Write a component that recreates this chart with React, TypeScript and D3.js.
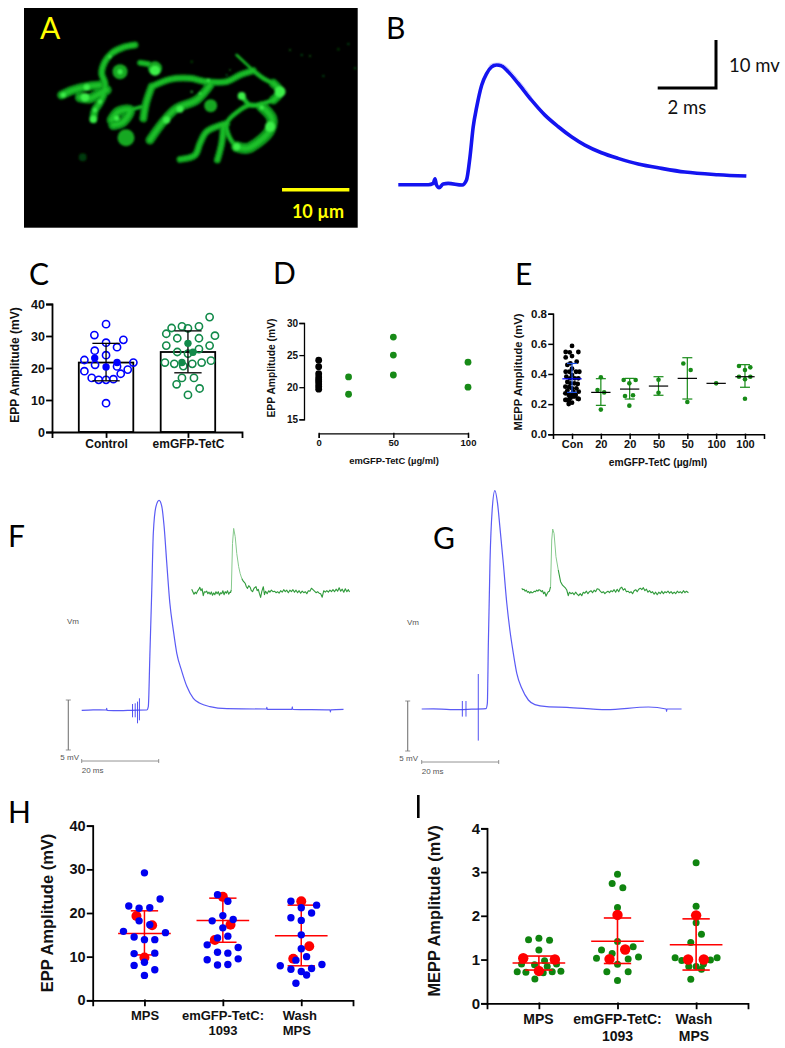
import React, { useEffect, useRef } from "react";
import * as d3 from "d3";

const SANS = "'Liberation Sans', Arial, sans-serif";
const HEAD = "Lato, 'Open Sans', sans-serif";

// ---------- Panel C ----------
const cCats = ["Control", "emGFP-TetC"];
const cTicks = [0, 10, 20, 30, 40];
const cMeans = [21.7, 25];
const cLow = [16, 18.5];
const cHigh = [27.7, 31.6];
const cControlOpen = [33.7, 30.3, 28.8, 27.9, 26.5, 25.4, 24.0, 22.5, 21.7, 21.0, 20.5, 19.5, 19.0, 18.2, 16.9, 16.3, 16.3, 16.5, 9.0];
const cControlOpenJ = [0, -35, 52, 0, 33, -34, 0, -65, 82, -33, 33, 65, -65, 44, -43, -22, 0, 22, 0];
const cControlFilled = [23.1, 21.7, 20.3];
const cControlFilledJ = [-34, 33, 0];
const cTetOpen = [35.9, 32.5, 33, 32.4, 33, 30.7, 30.1, 29.3, 29.3, 27, 27, 25.9, 25, 24.5, 21.7, 21.3, 21.3, 21.7, 22.3, 20.6, 16.9, 16.9, 14.9, 13.6, 11.6];
const cTetOpenJ = [65, -49, -18, 0, 33, -65, 81, -32, 33, -65, 65, 33, -32, 0, -69, -41, 13, 41, 69, -14, -18, 18, -34, 35, 0];
const cTetFilled = [27.7, 24.9, 21.7];
const cTetFilledJ = [0, 15, -18];

// ---------- Panel D ----------
const dYTicks = [15, 20, 25, 30];
const dXTicks = [0, 50, 100];
const dControl = [24.2, 23.2, 22.1, 21.6, 21.2, 20.9, 20.5, 20.1, 19.7];
const dDoses = [20, 20, 50, 50, 50, 100, 100];
const dDoseValues = [21.6, 18.9, 27.8, 25, 21.9, 23.9, 20];

// ---------- Panel E ----------
const eLabels = ["Con", "20", "20", "50", "50", "100", "100"];
const eTicks = [0, 0.2, 0.4, 0.6, 0.8];
const eCon = [0.586, 0.546, 0.544, 0.546, 0.519, 0.51, 0.482, 0.471, 0.46, 0.435, 0.415, 0.415, 0.415, 0.415, 0.393, 0.382, 0.371, 0.371, 0.371, 0.347, 0.338, 0.338, 0.334, 0.316, 0.312, 0.305, 0.305, 0.29, 0.283, 0.283, 0.272, 0.261, 0.261, 0.261, 0.243, 0.25, 0.228, 0.239, 0.236, 0.217, 0.21, 0.228, 0.234, 0.201];
const eConJ = [0, -19, -7, 19, 0, -19, 14, -5, -14, 0, -19, -8, 12, 22, 0, -17, -6, 8, 19, -14, -5, 7, 17, -20, -9, 0, 13, -14, 4, 20, -20, -10, 0, 11, -4, 6, -17, -7, 17, -9, 0, -20, 20, -10];
const eG1 = [0.378, 0.294, 0.278, 0.164];
const eG1J = [0, -10, 10, 0];
const eG2 = [0.36, 0.36, 0.338, 0.259, 0.254, 0.19];
const eG2J = [-18, 18, -1, 10, -14, -1];
const eG3 = [0.362, 0.276];
const eG3J = [0, 0];
const eG4 = [0.47, 0.427, 0.214];
const eG4J = [-12, 10, 0];
const eG5 = [0.338];
const eG5J = [0];
const eG6 = [0.453, 0.444, 0.427, 0.382, 0.382, 0.365, 0.236];
const eG6J = [-18, 16, 0, -18, 16, 0, 0];
const eMeans = [0.368, 0.278, 0.3, 0.32, 0.371, 0.338, 0.382];
const eLow = [0.278, 0.192, 0.234, 0.259, 0.234, 0.338, 0.312];
const eHigh = [0.47, 0.369, 0.371, 0.382, 0.508, 0.338, 0.462];

// ---------- Panel H ----------
const hTicks = [0, 10, 20, 30, 40];
const hMeans = [15.3, 18.3, 14.8];
const hLow = [10.4, 13.3, 7.9];
const hHigh = [20.5, 23.4, 21.8];
const hBlue1 = [29.2, 23.2, 21.6, 21.1, 21.2, 18.2, 17.3, 15.8, 15.5, 14.5, 13.9, 13.9, 10.7, 10.8, 8.7, 8.0, 7.0, 5.7];
const hBlue1J = [0, 47, -47, -16, 16, -16, 16, -63, 63, -31, 0, 31, -31, 31, 0, -31, 31, 0];
const hBlue2 = [24.2, 22.7, 19.4, 18.2, 18.5, 16.6, 14.7, 14.3, 12.7, 12.1, 11, 10.8, 9.3, 9.5, 8.1, 8.2];
const hBlue2J = [-16, 15, 0, -32, 31, 0, 15, -16, -47, 46, -16, 15, -47, 46, -16, 15];
const hBlue3 = [22.7, 21.8, 21.2, 20, 18.9, 18.3, 15, 11.8, 10, 9.2, 7.9, 8.2, 7.1, 7.3, 6.6, 5.8, 3.9];
const hBlue3J = [-31, 46, 0, 31, -31, 0, 0, 0, 16, -16, -63, 62, -31, 31, 0, 16, -16];
const hRed1 = [19.3, 17.2, 9.8];
const hRed1J = [-24, 23, 0];
const hRed2 = [23.7, 17.3, 13.8];
const hRed2J = [0, 23, -24];
const hRed3 = [22.7, 12.4, 9.5];
const hRed3J = [0, 24, -24];

// ---------- Panel I ----------
const iTicks = [0, 1, 2, 3, 4];
const iMeans = [0.92, 1.42, 1.34];
const iLow = [0.76, 0.91, 0.76];
const iHigh = [1.08, 1.95, 1.93];
const iGreen1 = [1.455, 1.486, 1.44, 1.22, 0.97, 0.9, 0.88, 0.9, 0.84, 0.72, 0.71, 0.7, 0.72, 0.73, 0.556];
const iGreen1J = [-31, 0, 32, 0, 17, -52, -13, 53, 25, -65, -39, 13, 40, 66, -12];
const iGreen2 = [2.95, 2.74, 2.64, 2.19, 1.41, 1.22, 1.29, 1.14, 1.03, 1.01, 1.06, 0.89, 0.72, 0.72, 0.52];
const iGreen2J = [0, -16, 16, 0, 0, -48, 47, -16, -63, 32, 63, 0, -32, 32, 0];
const iGreen3 = [3.21, 2.22, 1.84, 1.58, 1.39, 1.04, 1.04, 0.98, 0.99, 0.84, 0.9, 0.84, 0.78, 0.55];
const iGreen3J = [0, 0, 0, 16, -16, -63, 63, -43, 43, -22, 22, 0, 16, -16];
const iRed1 = [1.03, 1, 0.74];
const iRed1J = [-47, 48, 0];
const iRed2 = [2.02, 1.23, 1.01];
const iRed2J = [0, 23, -24];
const iRed3 = [2.01, 1, 1];
const iRed3J = [0, -24, 23];

const groups3 = [0, 1, 2];

// ---------- Traces: [ms, mV] ----------
type Pt = [number, number];
const traceB: Pt[] = [[0,0],[1.03,0],[1.2,.28],[1.26,1.24],[1.31,-.07],[1.4,-.62],[1.54,.14],[1.71,.28],[2.19,-.07],[2.34,.97],[2.46,5.8],[2.57,12],[2.69,16.1],[2.86,20.6],[3.03,23],[3.2,24.4],[3.37,24.8],[3.54,24.6],[3.77,23.4],[4.11,21],[4.57,17.5],[5.03,14.4],[5.49,12],[5.94,9.93],[6.4,8.2],[6.97,6.62],[7.54,5.45],[8.23,4.28],[9.03,3.38],[9.83,2.62],[10.97,2.07],[11.94,1.79]];
const traceBInner: Pt[] = [[3.1,24.6],[3.25,25.1],[3.45,25.2],[3.66,24.7],[4.11,21.8],[4.57,18.2]];
const traceFBlue: Pt[] = [[0,0],[3,.05],[6.4,.03],[6.5,.2],[6.6,0],[10,-.03],[13,0],[16.9,.03],[17.3,.37],[17.7,5.4],[18.2,12],[18.6,17.7],[19.3,20.4],[20.1,21],[20.8,20.4],[21.4,18.4],[22.1,14.7],[22.9,10.7],[23.8,8],[24.7,5.7],[26,3.9],[27.3,2.4],[29,1.2],[30.7,.7],[33.3,.37],[37.7,.17],[48,.13],[48.1,.3],[48.2,.1],[54.6,.1],[54.7,.35],[54.8,.1],[64.5,.05],[64.6,-.15],[64.7,.05],[68,.1]];
const traceFGreen: Pt[] = [[0,.35],[.3,.1],[.6,-.15],[.9,.05],[1.2,-.1],[1.5,.15],[1.8,.3],[2.1,.55],[2.4,.2],[2.7,.4],[3,-.3],[3.3,.1],[3.6,.05],[3.9,.15],[4.2,-.1],[4.5,.05],[4.8,-.15],[5.1,.08],[5.4,-.25],[5.7,-.02],[6,-.2],[6.3,.1],[6.6,-.1],[6.9,.1],[7.2,-.25],[7.5,0],[7.8,-.1],[8.1,.2],[8.4,-.2],[8.7,.1],[9,-.05],[9.3,.2],[9.6,-.15],[9.9,.05],[10.1,.02],[10.3,.3],[10.6,4.93],[10.9,6.43],[11.3,5.6],[11.7,3.93],[12.2,2.6],[12.6,1.9],[13,1.43],[13.4,1.15],[13.9,.93],[14.2,.6],[14.5,.43],[14.8,.7],[15.2,.53],[15.5,.2],[15.8,.1],[16.2,.45],[16.7,.6],[17,.2],[17.3,.33],[17.6,-.1],[17.9,-.47],[18.2,.1],[18.6,.6],[18.9,-.2],[19.2,.15],[19.6,-.1],[20,.2],[20.3,.05],[20.7,.25],[21.1,.1],[21.5,.15],[21.9,0],[22.3,.1],[22.7,-.05],[23.1,.2],[23.5,.05],[23.9,.3],[24.3,.1],[24.7,.25],[25.1,0],[25.5,.25],[25.9,.1],[26.3,.3],[26.7,.05],[27.1,.25],[27.5,0],[27.9,.2],[28.3,-.05],[28.7,.15],[29.1,0],[29.5,.1],[29.9,-.1],[30.3,.2],[30.7,.15],[31.1,.45],[31.5,.3],[31.9,.15],[32.3,0],[32.7,.1],[33.1,-.05],[33.5,-.1],[33.9,-.45],[34.3,.2],[34.7,.05],[35.1,.2],[35.5,.05],[35.9,.25],[36.3,.1],[36.7,.3],[37.1,.1],[37.5,.35],[37.9,.15],[38.3,.5],[38.7,.15],[39.1,.35],[39.5,.05],[39.9,.4],[40.3,.1],[40.7,.3],[41,.07]];
const traceGBlue: Pt[] = [[0,.03],[3,.05],[7.4,-.03],[12,0],[16.7,.07],[17.05,.6],[17.3,6.27],[17.75,14.9],[18.3,19.9],[19,21.87],[19.7,20.6],[20.3,18.27],[21.2,14.6],[22.1,10.6],[22.9,7.93],[23.8,5.6],[24.7,3.6],[26,2.1],[27.7,.93],[29.4,.47],[32.5,.27],[37.7,.2],[48,-.03],[58.9,.23],[63.5,.03],[63.6,-.2],[63.7,.03],[67.5,.03]];
const traceGGreen: Pt[] = [[0,.43],[.3,.3],[.6,.35],[.9,.15],[1.2,.25],[1.5,.05],[1.8,.12],[2.1,-.05],[2.4,.1],[2.7,-.02],[3,.05],[3.3,.15],[3.6,.1],[3.9,.25],[4.2,.15],[4.5,.3],[4.8,.25],[5.1,.1],[5.4,.2],[5.7,-.1],[6,.05],[6.3,-.35],[6.6,-.1],[6.9,.1],[7.2,.15],[7.5,.6],[7.8,5.27],[8.05,6.37],[8.4,5.93],[8.9,3.6],[9.5,2.27],[10.1,1.1],[10.6,.75],[11,.6],[11.4,.45],[11.7,.27],[12.1,-.3],[12.4,.05],[12.8,-.1],[13.2,0],[13.6,-.2],[14,.05],[14.4,-.15],[14.8,-.3],[15.2,-.1],[15.6,-.3],[16,.05],[16.4,-.05],[16.8,.15],[17.2,-.1],[17.6,.1],[18,.2],[18.4,0],[18.8,.25],[19.2,.1],[19.6,.4],[20,.35],[20.4,.15],[20.8,0],[21.2,.1],[21.6,-.1],[22,.05],[22.4,.15],[22.8,0],[23.2,.2],[23.6,.1],[24,.3],[24.4,.05],[24.8,.35],[25.2,.1],[25.6,.45],[26,.55],[26.4,.25],[26.8,.4],[27.2,.1],[27.6,.15],[28,0],[28.4,.1],[28.8,-.1],[29.2,.2],[29.6,.3],[30,.1],[30.4,.35],[30.8,.45],[31.2,.3],[31.6,.5],[32,.2],[32.4,.35],[32.8,.05],[33.2,.2],[33.6,0],[34,.1],[34.4,-.15],[34.8,.05],[35.2,-.2],[35.6,.05],[36,-.1],[36.4,.15],[36.8,-.1],[37.2,.1],[37.6,0],[38,.15],[38.4,-.05],[38.8,.1],[39.2,-.1],[39.6,.05],[40,-.1],[40.4,.15],[40.8,0],[41.2,.1],[41.6,-.05],[42,.2],[42.4,.0],[42.8,.15],[43.3,0]];
// stimulus artefacts: [ms, low mV, high mV]
const artefactsF = [[13.2,-.7,.63],[13.9,-.7,.7],[14.5,-1.3,.87],[15,-1,1.2]];
const artefactsG = [[10.56,-.73,.83],[11.5,-.73,.83],[14.7,-3.13,3.53]];

// ---------- Micrograph (image pixel coordinates) ----------
const nerveBranches: [number, Pt[]][] = [
  [7, [[405,135],[370,142],[335,160],[315,185],[305,220],[315,250],[310,285]]],
  [9, [[185,285],[220,270],[260,260],[300,255]]],
  [10, [[240,292],[270,295],[300,280],[320,270]]],
  [8, [[310,285],[298,310],[285,330],[280,358]]],
  [8, [[430,355],[438,310],[455,260]]],
  [7, [[455,260],[510,238],[570,235],[620,245],[680,245],[720,225],[760,212]]],
  [5, [[760,212],[790,235],[820,250]]],
  [9, [[820,250],[840,275],[820,300]]],
  [5, [[820,300],[790,310],[750,315],[725,285]]],
  [9, [[450,420],[490,365],[530,325],[590,300],[630,255]]],
  [10, [[335,360],[355,335],[390,330],[370,365],[340,375]]],
  [4, [[390,330],[425,320]]],
  [11, [[785,320],[815,355],[810,390],[770,430],[740,445],[710,440]]],
  [5, [[710,440],[690,415],[680,370],[720,330],[750,315],[785,320]]],
  [7, [[680,370],[620,395],[600,430],[585,465],[540,478]]],
  [7, [[670,380],[665,430],[652,480]]],
  [3, [[710,165],[760,212]]],
  [6, [[420,188],[445,192]]],
];
const nerveDim: [number, number, number][] = [[360,215,7.5],[632,317,6.5],[378,413,8.5],[465,205,7],[248,472,4]];
const nerveBlobs: [number, number, number][] = [[465,212,5],[840,275,5.5],[810,380,5],[725,288,4],[500,360,3.5],[540,328,3.5],[710,440,3.5],[280,358,3.5],[255,292,4],[190,285,2.5],[360,215,2.5],[785,323,2],[285,330,2],[300,305,2],[575,275,1],[330,170,1.5],[625,240,1.5],[600,280,1.2],[260,262,3],[350,355,2.5]];
const nerveSpecks: Pt[] = [[870,150],[905,165],[930,168],[1045,132],[1065,205],[970,228],[1015,148],[690,210],[575,185],[680,225]];

function Axis({ kind, scale, ticks, format, x = 0, y = 0, size, width = 1.8, tick = 5 }: any) {
  const ref = useRef<SVGGElement>(null);
  useEffect(() => {
    const gen = kind === "left" ? d3.axisLeft(scale) : d3.axisBottom(scale);
    gen.tickValues(ticks).tickSizeOuter(0).tickSize(tick).tickPadding(2).tickFormat(format);
    const g = d3.select(ref.current as SVGGElement);
    g.call(gen as any);
    g.selectAll("path,line").attr("stroke", "#000").attr("stroke-width", width).attr("stroke-linecap", "square");
    g.selectAll("text").attr("fill", "#111").style("font-family", SANS).style("font-weight", "700").style("font-size", size + "px");
  });
  return <g ref={ref} transform={`translate(${x},${y})`} />;
}

const jitter = d3.scaleLinear().domain([-100, 100]).range([-100 / 3, 100 / 3]);

function Dots({ values, offs, cx, y, r, fill, stroke, sw }: any) {
  return (
    <g>
      {values.map((v: number, i: number) => (
        <circle key={i} cx={cx + jitter(offs[i])} cy={y(v)} r={r} fill={fill} stroke={stroke ?? "none"} strokeWidth={sw ?? 0} />
      ))}
    </g>
  );
}

function ErrBar({ cx, y, mean, low, high, halfMean, halfCap, color, meanColor, width }: any) {
  const w = jitter(halfMean);
  const c = jitter(halfCap);
  return (
    <g stroke={color} strokeWidth={width} fill="none">
      <line x1={cx} x2={cx} y1={y(low)} y2={y(high)} />
      <line x1={cx - c} x2={cx + c} y1={y(low)} y2={y(low)} />
      <line x1={cx - c} x2={cx + c} y1={y(high)} y2={y(high)} />
      <line x1={cx - w} x2={cx + w} y1={y(mean)} y2={y(mean)} stroke={meanColor ?? color} />
    </g>
  );
}

function Txt({ x, y, size, children, anchor = "middle", weight = 700, rotate = false, fill = "#111", family = SANS }: any) {
  return (
    <text x={x} y={y} fontSize={size} textAnchor={anchor} fontWeight={weight} fill={fill} fontFamily={family}
      dominantBaseline={rotate ? "middle" : undefined}
      transform={rotate ? `rotate(-90 ${x} ${y})` : undefined}>
      {children}
    </text>
  );
}

function Head({ x, y, children, fill = "#000" }: any) {
  return <text x={x} y={y} fontSize={30} fontFamily={HEAD} fill={fill}>{children}</text>;
}

function PanelA() {
  const x = d3.scaleLinear().domain([72, 1073]).range([24, 357.7]);
  const y = d3.scaleLinear().domain([24, 683]).range([8, 227.7]);
  const line = d3.line<Pt>().x((d) => x(d[0])).y((d) => y(d[1])).curve(d3.curveCatmullRom);
  return (
    <g>
      <rect x={x(72)} y={y(24)} width={x(1073) - x(72)} height={y(683) - y(24)} fill="#000" />
      <g filter="url(#glow)">
        {nerveSpecks.map((s, i) => <circle key={i} cx={x(s[0])} cy={y(s[1])} r={1} fill="#0c6a14" />)}
        {nerveDim.map((b, i) => <circle key={i} cx={x(b[0])} cy={y(b[1])} r={b[2]} fill={i === 4 ? "#063a0a" : "#14a820"} />)}
        {nerveBranches.map(([w, pts], i) => (
          <path key={i} d={line(pts) as string} fill="none" stroke="#119a1c" strokeWidth={w} strokeLinecap="round" />
        ))}
        {nerveBranches.map(([w, pts], i) => (
          <path key={"b" + i} d={line(pts) as string} fill="none" stroke="#1fc22b" strokeWidth={w * 0.4} strokeLinecap="round" />
        ))}
        {nerveBlobs.map((b, i) => <circle key={i} cx={x(b[0])} cy={y(b[1])} r={b[2]} fill="#3cf04a" />)}
      </g>
      <line x1={x(846)} x2={x(1048)} y1={y(569)} y2={y(569)} stroke="#ffff00" strokeWidth={3.6} />
      <text x={x(954)} y={218} fontSize={18} fontWeight={700} fill="#ffff00" textAnchor="middle" fontFamily={HEAD}>10 µm</text>
      <Head x={40} y={38.5} fill="#ffff00">A</Head>
    </g>
  );
}

function PanelB() {
  const x = d3.scaleLinear().domain([0, 2]).range([398.3, 456.6]);
  const y = d3.scaleLinear().domain([0, 10]).range([184.7, 136.4]);
  const line = d3.line<Pt>().x((d) => x(d[0])).y((d) => y(d[1])).curve(d3.curveMonotoneX);
  const barX = d3.scaleLinear().domain([0, 2]).range([657.7, 716]);
  const barY = d3.scaleLinear().domain([0, 10]).range([88, 40]);
  return (
    <g>
      <path d={line(traceB) as string} fill="none" stroke="#1414f0" strokeWidth={3.6} />
      <path d={line(traceBInner) as string} fill="none" stroke="#b8b8ff" strokeWidth={0.7} />
      <path d={`M${barX(0)},${barY(0)}H${barX(2)}V${barY(10)}`} fill="none" stroke="#000" strokeWidth={3} />
      <text x={729} y={71.5} fontSize={18.5} fontFamily={HEAD} fill="#111">10 mv</text>
      <text x={667.5} y={114} fontSize={18.5} fontFamily={HEAD} fill="#111">2 ms</text>
      <Head x={386} y={39}>B</Head>
    </g>
  );
}

function PanelC() {
  const x = d3.scalePoint<string>().domain(cCats).range([52, 242]).padding(0.66);
  const y = d3.scaleLinear().domain([0, 40]).range([432, 304]);
  const c0 = x(cCats[0]) as number;
  const c1 = x(cCats[1]) as number;
  const bw = 54.5;
  return (
    <g>
      <Head x={29} y={285}>C</Head>
      {cCats.map((c, i) => (
        <rect key={c} x={(x(c) as number) - bw / 2} y={y(cMeans[i])} width={bw} height={y(0) - y(cMeans[i])} fill="#fff" stroke="#000" strokeWidth={1.8} />
      ))}
      <Dots values={cControlOpen} offs={cControlOpenJ} cx={c0} y={y} r={3.6} fill="none" stroke="#0000ff" sw={1.6} />
      <Dots values={cTetOpen} offs={cTetOpenJ} cx={c1} y={y} r={3.6} fill="none" stroke="#128a4a" sw={1.6} />
      {cCats.map((c, i) => (
        <ErrBar key={c} cx={x(c)} y={y} mean={cMeans[i]} low={cLow[i]} high={cHigh[i]} halfMean={0} halfCap={41} color="#000" width={1.3} />
      ))}
      <Dots values={cControlFilled} offs={cControlFilledJ} cx={c0} y={y} r={3.7} fill="#0000ff" />
      <Dots values={cTetFilled} offs={cTetFilledJ} cx={c1} y={y} r={3.7} fill="#128a4a" />
      <Axis kind="left" scale={y} ticks={cTicks} format={(d: number) => String(d)} x={52} size={12.5} />
      <Axis kind="bottom" scale={x} ticks={cCats} format={(d: string) => d} y={432} size={12} />
      <Txt x={16} y={365} size={12} rotate>EPP Amplitude (mV)</Txt>
    </g>
  );
}

function PanelD() {
  const y = d3.scaleLinear().domain([15, 30]).range([419.3, 323]);
  const x = d3.scaleLinear().domain([0, 100]).range([318.7, 468]);
  return (
    <g>
      <Head x={273} y={283.5}>D</Head>
      {dControl.map((v, i) => <circle key={i} cx={x(0)} cy={y(v)} r={3.4} fill="#000" />)}
      {dDoseValues.map((v, i) => <circle key={i} cx={x(dDoses[i])} cy={y(v)} r={3.4} fill="#178a17" />)}
      <Axis kind="left" scale={y} ticks={dYTicks} format={(d: number) => String(d)} x={304} size={10} width={1.3} tick={4} />
      <Axis kind="bottom" scale={x} ticks={dXTicks} format={(d: number) => String(d)} y={433.3} size={9.5} width={1.3} tick={4} />
      <Txt x={394} y={464} size={9.4}>emGFP-TetC (µg/ml)</Txt>
      <Txt x={272} y={368} size={10.3} rotate>EPP Amplitude (mV)</Txt>
    </g>
  );
}

function PanelE() {
  const ids = d3.range(eLabels.length);
  const x = d3.scalePoint<number>().domain(ids).range([553, 764]).padding(0.66);
  const y = d3.scaleLinear().domain([0, 0.8]).range([434.3, 313.7]);
  const sets: [number[], number[]][] = [[eG1, eG1J], [eG2, eG2J], [eG3, eG3J], [eG4, eG4J], [eG5, eG5J], [eG6, eG6J]];
  return (
    <g>
      <Head x={515} y={285}>E</Head>
      <Dots values={eCon} offs={eConJ} cx={x(0)} y={y} r={2.4} fill="#000" />
      {sets.map(([v, j], i) => (
        <Dots key={i} values={v} offs={j} cx={x(i + 1)} y={y} r={2.3} fill="#178a17" />
      ))}
      {ids.map((i) => (
        <ErrBar key={i} cx={x(i)} y={y} mean={eMeans[i]} low={eLow[i]} high={eHigh[i]} halfMean={29} halfCap={i === 5 ? 0 : 15}
          color={i === 0 ? "#1a4fe0" : "#178a17"} meanColor={i === 0 ? "#0000ff" : "#000"} width={1.2} />
      ))}
      <Axis kind="left" scale={y} ticks={eTicks} format={(d: number) => d.toFixed(1)} x={553} size={11.5} width={1.5} tick={4} />
      <Axis kind="bottom" scale={x} ticks={ids} format={(i: number) => eLabels[i]} y={434.3} size={11} width={1.5} tick={4} />
      <Txt x={658} y={466} size={10.3}>emGFP-TetC (µg/ml)</Txt>
      <Txt x={519} y={372} size={11.2} rotate>MEPP Amplitude (mV)</Txt>
    </g>
  );
}

function Trace({ data, x, y, color, width, curve }: any) {
  const line = d3.line<Pt>().x((d) => x(d[0])).y((d) => y(d[1]));
  if (curve) line.curve(curve);
  return <path d={line(data) as string} fill="none" stroke={color} strokeWidth={width} strokeLinejoin="round" />;
}

function Recording({ blue, green, spike, arts, bx, by, gx, gy, barX, barTop, vmX, vmY, labelY, hx, hy, letter, mvX }: any) {
  const x = d3.scaleLinear().domain([0, 20]).range([bx, bx + 77]);
  const y = d3.scaleLinear().domain([0, 5]).range([by, by - 50]);
  const xg = d3.scaleLinear().domain([0, 20]).range([gx, gx + 77]);
  const yg = d3.scaleLinear().domain([0, 5]).range([gy, gy - 50]);
  const vert = d3.scaleLinear().domain([0, 5]).range([barTop + 50, barTop]);
  const grey = "#777";
  const pre = green.filter((d: Pt) => d[0] <= spike[0]);
  const mid = green.filter((d: Pt) => d[0] >= spike[0] && d[0] <= spike[1]);
  const post = green.filter((d: Pt) => d[0] >= spike[1]);
  return (
    <g>
      <Head x={hx} y={hy}>{letter}</Head>
      <g filter="url(#soft)">
        <Trace data={blue} x={x} y={y} color="#5a5af5" width={1.2} curve={d3.curveMonotoneX} />
        {arts.map((a: number[], i: number) => (
          <line key={i} x1={x(a[0])} x2={x(a[0])} y1={y(a[1])} y2={y(a[2])} stroke="#4040f0" strokeWidth={0.9} />
        ))}
        <Trace data={pre} x={xg} y={yg} color="#2f9a3a" width={1.1} />
        <Trace data={mid} x={xg} y={yg} color="#86c98c" width={1} />
        <Trace data={post} x={xg} y={yg} color="#2f9a3a" width={1.1} />
        <line x1={barX} x2={barX} y1={vert(0)} y2={vert(5)} stroke={grey} strokeWidth={1.1} />
        <path d={`M${barX - 2.5},${vert(0)}h5M${barX - 2.5},${vert(5)}h5`} stroke={grey} strokeWidth={0.8} fill="none" />
        <line x1={x(0)} x2={x(20)} y1={labelY} y2={labelY} stroke={grey} strokeWidth={0.8} />
        <path d={`M${x(0)},${labelY - 2}v4M${x(20)},${labelY - 2}v4`} stroke={grey} strokeWidth={0.8} fill="none" />
      </g>
      <Txt x={vmX} y={vmY} size={8} anchor="start" weight={400} fill="#555">Vm</Txt>
      <Txt x={mvX} y={labelY - 1} size={8} anchor="end" weight={400} fill="#555">5 mV</Txt>
      <Txt x={x(0)} y={labelY + 12} size={8} anchor="start" weight={400} fill="#555">20 ms</Txt>
    </g>
  );
}

function PanelH() {
  const x = d3.scalePoint<number>().domain(groups3).range([92.7, 353]).padding(0.66);
  const y = d3.scaleLinear().domain([0, 40]).range([1000.3, 825.7]);
  const reds = [[hRed1, hRed1J], [hRed2, hRed2J], [hRed3, hRed3J]];
  const blues = [[hBlue1, hBlue1J], [hBlue2, hBlue2J], [hBlue3, hBlue3J]];
  return (
    <g>
      <Head x={8} y={823}>H</Head>
      {groups3.map((i) => <Dots key={i} values={reds[i][0]} offs={reds[i][1]} cx={x(i)} y={y} r={5} fill="#ff0000" />)}
      {groups3.map((i) => (
        <ErrBar key={i} cx={x(i)} y={y} mean={hMeans[i]} low={hLow[i]} high={hHigh[i]} halfMean={79} halfCap={41} color="#ff0000" width={1.5} />
      ))}
      {groups3.map((i) => <Dots key={i} values={blues[i][0]} offs={blues[i][1]} cx={x(i)} y={y} r={3.7} fill="#0000f0" />)}
      <Axis kind="left" scale={y} ticks={hTicks} format={(d: number) => String(d)} x={92.7} size={14.5} />
      <Axis kind="bottom" scale={x} ticks={groups3} format={() => ""} y={1000.3} size={13} />
      <Txt x={49} y={913} size={16.5} rotate>EPP Amplitude (mV)</Txt>
      <Txt x={145} y={1020} size={13}>MPS</Txt>
      <Txt x={223} y={1020} size={13}>emGFP-TetC:</Txt>
      <Txt x={223} y={1035} size={13}>1093</Txt>
      <Txt x={282.7} y={1020} size={13} anchor="start">Wash</Txt>
      <Txt x={282.7} y={1035} size={13} anchor="start">MPS</Txt>
    </g>
  );
}

function PanelI() {
  const x = d3.scalePoint<number>().domain(groups3).range([487, 748]).padding(0.66);
  const y = d3.scaleLinear().domain([0, 4]).range([1003.3, 828.3]);
  const reds = [[iRed1, iRed1J], [iRed2, iRed2J], [iRed3, iRed3J]];
  const greens = [[iGreen1, iGreen1J], [iGreen2, iGreen2J], [iGreen3, iGreen3J]];
  return (
    <g>
      <rect x={417} y={795} width={2.6} height={23} fill="#000" />
      {groups3.map((i) => <Dots key={i} values={greens[i][0]} offs={greens[i][1]} cx={x(i)} y={y} r={3.5} fill="#0f840f" />)}
      {groups3.map((i) => <Dots key={i} values={reds[i][0]} offs={reds[i][1]} cx={x(i)} y={y} r={5.2} fill="#ff0000" />)}
      {groups3.map((i) => (
        <ErrBar key={i} cx={x(i)} y={y} mean={iMeans[i]} low={iLow[i]} high={iHigh[i]} halfMean={79} halfCap={41} color="#ff0000" width={1.6} />
      ))}
      <Axis kind="left" scale={y} ticks={iTicks} format={(d: number) => String(d)} x={487} size={15} />
      <Axis kind="bottom" scale={x} ticks={groups3} format={() => ""} y={1003.3} size={13} />
      <Txt x={436} y={911} size={16.4} rotate>MEPP Amplitude (mV)</Txt>
      <Txt x={538.5} y={1024} size={14}>MPS</Txt>
      <Txt x={617.5} y={1024} size={14}>emGFP-TetC:</Txt>
      <Txt x={617.5} y={1041} size={14}>1093</Txt>
      <Txt x={694} y={1024} size={14}>Wash</Txt>
      <Txt x={694} y={1041} size={14}>MPS</Txt>
    </g>
  );
}

export default function App() {
  return (
    <svg width={785} height={1048} viewBox="0 0 785 1048" style={{ position: "absolute", left: 0, top: 0, display: "block", background: "#fff" }}>
      <defs>
        <filter id="glow" x="-5%" y="-5%" width="110%" height="110%"><feGaussianBlur stdDeviation="0.9" /></filter>
        <filter id="soft" x="-5%" y="-5%" width="110%" height="110%"><feGaussianBlur stdDeviation="0.3" /></filter>
      </defs>
      <PanelA />
      <PanelB />
      <PanelC />
      <PanelD />
      <PanelE />
      <Recording letter="F" hx={8} hy={547} blue={traceFBlue} green={traceFGreen} spike={[10.3, 13]} arts={artefactsF} bx={81.7} by={710.3} gx={191.7} gy={592.7}
        barX={68.3} barTop={700} vmX={67} vmY={624} labelY={761} mvX={79} />
      <Recording letter="G" hx={433} hy={549} blue={traceGBlue} green={traceGGreen} spike={[7.5, 9.5]} arts={artefactsG} bx={421.7} by={709.3} gx={521.7} gy={592.7}
        barX={407.7} barTop={701} vmX={407} vmY={624.5} labelY={762} mvX={418} />
      <PanelH />
      <PanelI />
    </svg>
  );
}
